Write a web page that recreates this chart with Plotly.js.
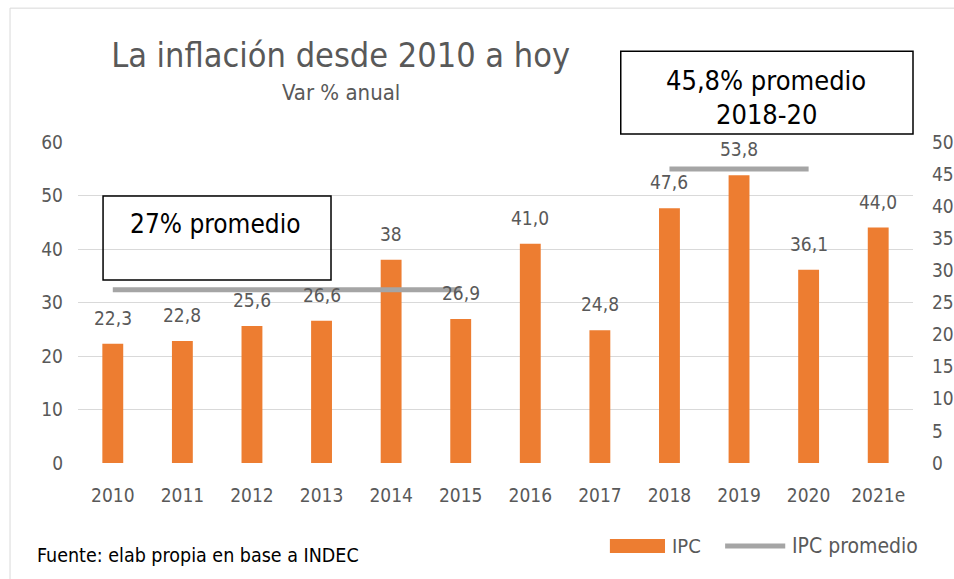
<!DOCTYPE html>
<html><head><meta charset="utf-8">
<script src="https://cdn.plot.ly/plotly-3.0.1.min.js"></script>
<style>html,body{margin:0;padding:0;background:#fff;}#chart{width:954px;height:579px;}</style>
</head><body><div id="chart"></div>
<script>
const years = ['2010','2011','2012','2013','2014','2015','2016','2017','2018','2019','2020','2021e'];
const ipc = [22.3, 22.8, 25.6, 26.6, 38, 26.9, 41.0, 24.8, 47.6, 53.8, 36.1, 44.0];
const ipcLabels = ['22,3','22,8','25,6','26,6','38','26,9','41,0','24,8','47,6','53,8','36,1','44,0'];
const avg1Years = ['2010','2011','2012','2013','2014','2015'];
const avg1 = [27, 27, 27, 27, 27, 27];
const avg2Years = ['2018','2019','2020'];
const avg2 = [45.8, 45.8, 45.8];

const F = 'Liberation Sans Narrow, DejaVu Sans Condensed, Open Sans, sans-serif';
const grey = '#595959';
const orange = '#ED7D31';
const lineGrey = '#A5A5A5';

const traces = [
  {type:'bar', x: years, y: ipc, name:'IPC', marker:{color:orange}, width:0.3, hoverinfo:'none'},
  {type:'scatter', mode:'lines', x: avg1Years, y: avg1, yaxis:'y2', name:'IPC promedio',
   line:{color:lineGrey, width:5}, hoverinfo:'none'},
  {type:'scatter', mode:'lines', x: avg2Years, y: avg2, yaxis:'y2', name:'IPC promedio',
   line:{color:lineGrey, width:5}, hoverinfo:'none'}
];

const annotations = years.map((c,i)=>({x:i, y:ipc[i], xref:'x', yref:'y', text:ipcLabels[i],
  showarrow:false, xanchor:'center', yanchor:'bottom', yshift:13, font:{family:F, size:19, color:grey}}));

function txt(x, y, text, size, color, xanchor){
  return {xref:'paper', yref:'paper', x:x, y:y, text:text, showarrow:false,
          xanchor:xanchor||'center', yanchor:'middle', font:{family:F, size:size, color:color}};
}
annotations.push(
  txt(0.315, 1.155, 'Var % anual', 22, grey),
  txt(0.164, 0.745, '27% promedio', 26, '#000'),
  txt(0.824, 1.193, '45,8% promedio', 27, '#000'),
  txt(0.824, 1.087, '2018-20', 27, '#000'),
  txt(-0.0515, -0.287, 'Fuente: elab propia en base a INDEC', 19.5, '#000', 'left'),
  txt(0.709, -0.2586, 'IPC', 20, grey, 'left'),
  txt(0.853, -0.2586, 'IPC promedio', 21, grey, 'left')
);

const layout = {
  width:954, height:579,
  margin:{l:78, r:41, t:142, b:116},
  paper_bgcolor:'#fff', plot_bgcolor:'#fff',
  title:{text:'La inflación desde 2010 a hoy', x:0.357, xanchor:'center', y:0.905, yanchor:'middle',
         font:{family:F, size:34, color:grey}},
  showlegend:false,
  bargap:0.7,
  xaxis:{type:'category', range:[-0.5, 11.5], showgrid:false, ticks:'', ticklabelstandoff:19,
         tickfont:{family:F, size:19, color:grey}, showline:false, zeroline:false},
  yaxis:{range:[0,60], dtick:10, showgrid:true, gridcolor:'#D9D9D9', gridwidth:1, zeroline:false,
         ticks:'', ticklabelstandoff:14, tickfont:{family:F, size:19, color:grey}},
  yaxis2:{range:[0,50], dtick:5, overlaying:'y', side:'right', showgrid:false, zeroline:false,
          ticks:'', ticklabelstandoff:18, tickfont:{family:F, size:19, color:grey}},
  annotations: annotations,
  shapes:[
    {type:'rect', xref:'paper', yref:'paper', x0:-0.0814, x1:1.2, y0:-0.4, y1:1.417,
     line:{color:'#D9D9D9', width:1}, fillcolor:'rgba(0,0,0,0)', layer:'below'},
    {type:'rect', xref:'paper', yref:'paper', x0:0.030, x1:0.303, y0:0.570, y1:0.832,
     line:{color:'#000', width:1.5}, fillcolor:'rgba(0,0,0,0)'},
    {type:'rect', xref:'paper', yref:'paper', x0:0.650, x1:1.0, y0:1.025, y1:1.283,
     line:{color:'#000', width:1.5}, fillcolor:'rgba(0,0,0,0)'},
    {type:'rect', xref:'paper', yref:'paper', x0:0.637, x1:0.703, y0:-0.280, y1:-0.237,
     line:{width:0}, fillcolor:orange},
    {type:'line', xref:'paper', yref:'paper', x0:0.775, x1:0.847, y0:-0.2586, y1:-0.2586,
     line:{color:lineGrey, width:5}}
  ]
};

Plotly.newPlot('chart', traces, layout, {displayModeBar:false, staticPlot:true});
</script>
</body></html>
